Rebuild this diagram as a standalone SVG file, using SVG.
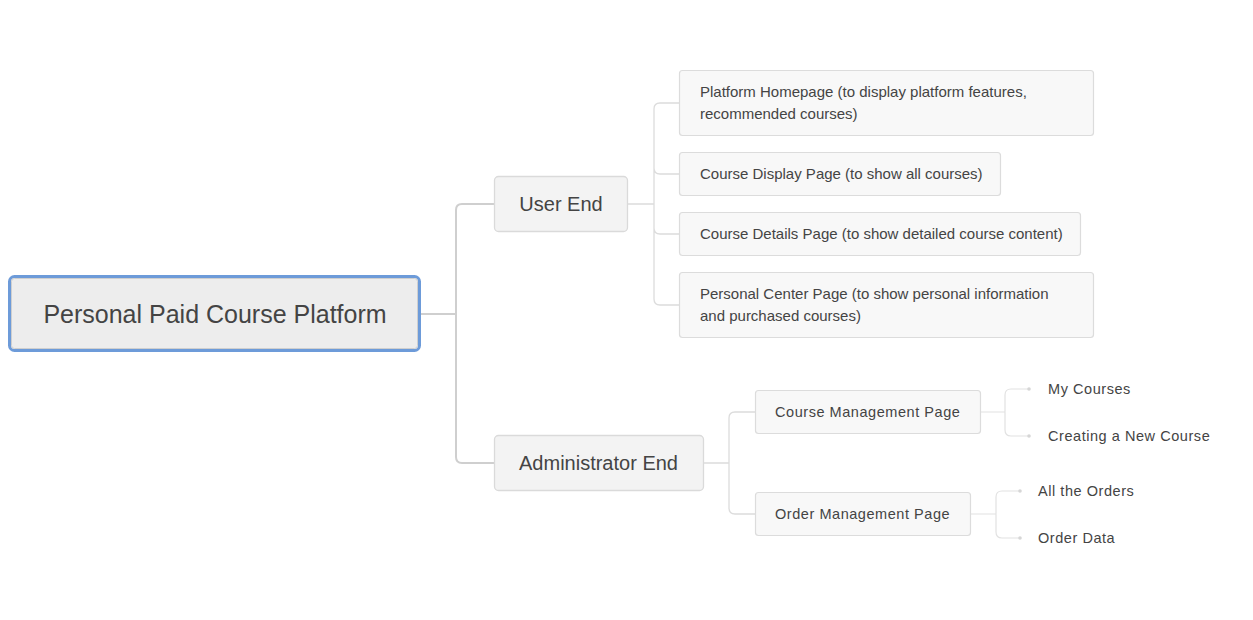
<svg xmlns="http://www.w3.org/2000/svg" width="1253" height="620" viewBox="0 0 1253 620">
<style>
text{font-family:"Liberation Sans",Arial,sans-serif;fill:#444}
.c{fill:none;stroke:#cfcfcf;stroke-width:2}
.c2{fill:none;stroke:#dcdcdc;stroke-width:1.3}
.c3{fill:none;stroke:#e2e2e2;stroke-width:1.2}
.b1{fill:#f3f3f3;stroke:#dadada;stroke-width:1.3}
.b2{fill:#f8f8f8;stroke:#dcdcdc;stroke-width:1.2}
.t1{font-size:20px}
.t2{font-size:15px}
.t3{font-size:14.5px;letter-spacing:0.55px}
.dot{fill:#d6d6d6}
</style>
<rect width="1253" height="620" fill="#fff"/>
<g id="connectors">
<path class="c" d="M421 314H456M456 314V210Q456 204 462 204H494M456 314V457Q456 463 462 463H494"/>
<path class="c2" d="M628 204H654M654 204V109Q654 103 660 103H679M654 204V168Q654 174 660 174H679M654 204V228Q654 234 660 234H679M654 204V299Q654 305 660 305H679"/>
<path class="c2" d="M704 463H729M729 463V418Q729 412 735 412H755M729 463V508Q729 514 735 514H755"/>
<path class="c3" d="M981 412H1005M1005 412V395Q1005 389 1011 389H1028M1005 412V430Q1005 436 1011 436H1028"/>
<path class="c3" d="M971 514H996M996 514V497Q996 491 1002 491H1019M996 514V532Q996 538 1002 538H1019"/>
<circle class="dot" cx="1029" cy="389" r="1.8"/>
<circle class="dot" cx="1029" cy="436" r="1.8"/>
<circle class="dot" cx="1020" cy="491" r="1.8"/>
<circle class="dot" cx="1020" cy="538" r="1.8"/>
</g>
<g id="root">
<rect x="9.5" y="276.5" width="410" height="74" rx="5" fill="#ededed" stroke="#6d9bd9" stroke-width="3"/>
<rect x="11.5" y="278.5" width="406" height="70" rx="3" fill="none" stroke="#cfcfcf" stroke-width="1"/>
<text x="215" y="323" font-size="25" text-anchor="middle">Personal Paid Course Platform</text>
</g>
<g id="user-end">
<rect class="b1" x="494.5" y="176.5" width="133" height="55" rx="4"/>
<text class="t1" x="561" y="211" text-anchor="middle">User End</text>
</g>
<g id="admin-end">
<rect class="b1" x="494.5" y="435.5" width="209" height="55" rx="4"/>
<text class="t1" x="598.5" y="470" text-anchor="middle">Administrator End</text>
</g>
<g id="homepage">
<rect class="b2" x="679.5" y="70.5" width="414" height="65" rx="3"/>
<text class="t2" x="700" y="97">Platform Homepage (to display platform features,</text>
<text class="t2" x="700" y="119">recommended courses)</text>
</g>
<g id="course-display">
<rect class="b2" x="679.5" y="152.5" width="321" height="43" rx="3"/>
<text class="t2" x="700" y="179">Course Display Page (to show all courses)</text>
</g>
<g id="course-details">
<rect class="b2" x="679.5" y="212.5" width="401" height="43" rx="3"/>
<text class="t2" x="700" y="239">Course Details Page (to show detailed course content)</text>
</g>
<g id="personal-center">
<rect class="b2" x="679.5" y="272.5" width="414" height="65" rx="3"/>
<text class="t2" x="700" y="299">Personal Center Page (to show personal information</text>
<text class="t2" x="700" y="321">and purchased courses)</text>
</g>
<g id="course-mgmt">
<rect class="b2" x="755.5" y="390.5" width="225" height="43" rx="3"/>
<text class="t3" x="775" y="417">Course Management Page</text>
</g>
<g id="order-mgmt">
<rect class="b2" x="755.5" y="492.5" width="215" height="43" rx="3"/>
<text class="t3" x="775" y="519">Order Management Page</text>
</g>
<g id="my-courses"><text class="t3" x="1048" y="394">My Courses</text></g>
<g id="new-course"><text class="t3" x="1048" y="441">Creating a New Course</text></g>
<g id="all-orders"><text class="t3" x="1038" y="496">All the Orders</text></g>
<g id="order-data"><text class="t3" x="1038" y="543">Order Data</text></g>
</svg>
